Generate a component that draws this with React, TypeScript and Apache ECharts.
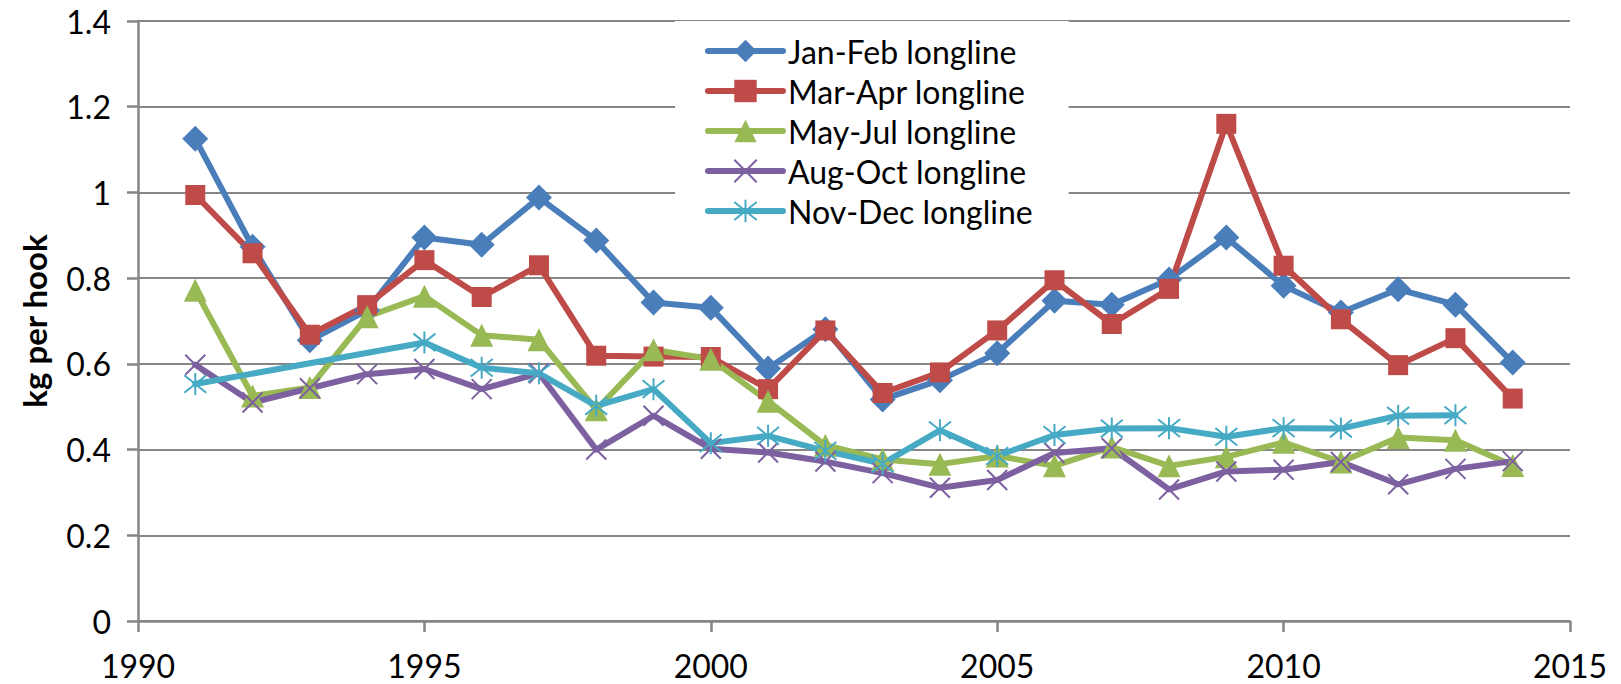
import React, { useEffect, useRef } from 'react';
import * as echarts from 'echarts';

const years = [1991, 1992, 1993, 1994, 1995, 1996, 1997, 1998, 1999, 2000, 2001, 2002, 2003, 2004, 2005, 2006, 2007, 2008, 2009, 2010, 2011, 2012, 2013, 2014];

const janFeb = [1.125, 0.873, 0.655, 0.725, 0.895, 0.878, 0.988, 0.888, 0.743, 0.731, 0.589, 0.681, 0.517, 0.562, 0.625, 0.747, 0.738, 0.797, 0.895, 0.782, 0.72, 0.774, 0.738, 0.603];
const marApr = [0.994, 0.858, 0.668, 0.737, 0.842, 0.756, 0.83, 0.619, 0.617, 0.616, 0.541, 0.678, 0.532, 0.58, 0.678, 0.795, 0.693, 0.775, 1.16, 0.829, 0.704, 0.597, 0.66, 0.519];
const mayJul = [0.772, 0.525, 0.545, 0.71, 0.758, 0.667, 0.656, 0.493, 0.633, 0.611, 0.513, 0.41, 0.377, 0.366, 0.385, 0.362, 0.406, 0.362, 0.383, 0.417, 0.371, 0.428, 0.422, 0.363];
const augOct = [0.598, 0.51, 0.543, 0.576, 0.588, 0.541, 0.578, 0.4, 0.479, 0.402, 0.393, 0.372, 0.345, 0.311, 0.329, 0.392, 0.403, 0.307, 0.349, 0.353, 0.371, 0.319, 0.355, 0.373];
const novDec = [0.553, null, null, null, 0.65, 0.591, 0.578, 0.502, 0.541, 0.415, 0.432, 0.397, 0.367, 0.445, 0.385, 0.434, 0.449, 0.45, 0.43, 0.45, 0.449, 0.479, 0.48, null];

const seriesNames = ['Jan-Feb longline', 'Mar-Apr longline', 'May-Jul longline', 'Aug-Oct longline', 'Nov-Dec longline'];

const FONT = 'Lato, "Liberation Sans", sans-serif';
const GRID_GRAY = '#868686';

// excel-ish marker shapes
const X_MARK = 'path://M0,0L20,20M20,0L0,20';
const STAR_MARK = 'path://M10,0L10,20M2,2L18,18M18,2L2,18';

const seriesStyle = [
  { color: '#4A7EBB', symbol: 'diamond', size: 26, border: 0 },
  { color: '#BE4B48', symbol: 'rect', size: 20, border: 0 },
  { color: '#98B954', symbol: 'triangle', size: 23, border: 0 },
  { color: '#7D60A0', symbol: X_MARK, size: 20, border: 2 },
  { color: '#46AAC5', symbol: STAR_MARK, size: 22, border: 2 },
];

const App: React.FC = () => {
  const chartRef = useRef<HTMLDivElement | null>(null);

  useEffect(() => {
    if (!chartRef.current) return;
    const chart = echarts.init(chartRef.current, null, { renderer: 'svg' });

    const allData = [janFeb, marApr, mayJul, augOct, novDec];

    const option: echarts.EChartsOption = {
      animation: false,
      textStyle: { fontFamily: FONT },
      grid: { left: 138, right: 51, top: 21, bottom: 63 },
      legend: {
        orient: 'vertical',
        left: 675,
        top: 21,
        padding: [14, 36, 10, 30],
        backgroundColor: '#ffffff',
        itemWidth: 75,
        itemHeight: 28,
        itemGap: 8,
        lineStyle: { width: 'inherit' },
        textStyle: { fontSize: 32, color: '#000', fontFamily: FONT, lineHeight: 31 },
        data: seriesNames,
      },
      xAxis: {
        type: 'value',
        min: 1990,
        max: 2015,
        interval: 5,
        axisLine: { show: true, lineStyle: { color: GRID_GRAY, width: 2.5 } },
        axisTick: { show: true, length: 11, lineStyle: { color: GRID_GRAY, width: 2.5 } },
        splitLine: { show: false },
        axisLabel: {
          fontSize: 32,
          color: '#000',
          fontFamily: FONT,
          margin: 28,
          formatter: (v: number) => String(v),
        },
      },
      yAxis: {
        type: 'value',
        min: 0,
        max: 1.4,
        interval: 0.2,
        name: 'kg per hook',
        nameLocation: 'middle',
        nameGap: 88,
        nameTextStyle: { fontSize: 33, fontWeight: 'bold', color: '#000', fontFamily: FONT },
        axisLine: { show: true, lineStyle: { color: GRID_GRAY, width: 2.5 } },
        axisTick: { show: true, length: 11, lineStyle: { color: GRID_GRAY, width: 2.5 } },
        splitLine: { show: true, lineStyle: { color: GRID_GRAY, width: 2 } },
        axisLabel: { fontSize: 32, color: '#000', fontFamily: FONT, margin: 27 },
      },
      series: seriesNames.map((name, i) => ({
        name,
        type: 'line',
        connectNulls: true,
        symbol: seriesStyle[i].symbol,
        symbolSize: seriesStyle[i].size,
        showSymbol: true,
        data: years.map((y, k) => [y, allData[i][k]]),
        lineStyle: { color: seriesStyle[i].color, width: 6, cap: 'round', join: 'round' },
        itemStyle: {
          color: seriesStyle[i].color,
          borderColor: seriesStyle[i].color,
          borderWidth: seriesStyle[i].border,
        },
        emphasis: { disabled: true },
      })),
    };

    chart.setOption(option);

    return () => {
      chart.dispose();
    };
  }, []);

  return <div ref={chartRef} style={{ position: 'fixed', left: 0, top: 0, width: '1621px', height: '684px', background: '#fff' }} />;
};

export default App;
